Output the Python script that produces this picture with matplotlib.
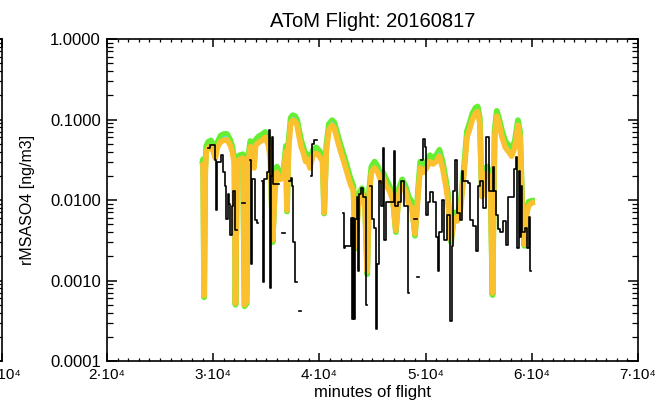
import numpy as np
import matplotlib
matplotlib.use('Agg')
import matplotlib.pyplot as plt
from matplotlib.ticker import FixedLocator, FixedFormatter, LogLocator, MultipleLocator, NullFormatter

plt.rcParams['font.family'] = ['Liberation Sans', 'DejaVu Sans']

nan = np.nan

# data (minutes of flight, ng/m3)
orange_x = [28950, 29050, 29150, 29250, 29350, 29550, 29800, 30000, 30200, 30400,
            30700, 31000, 31300, 31600, 31800, 32000, 32100, 32250, 32500, 32800,
            32950, 33150, 33300, 33500, 33700, 33850, 34000, 34300, 34600, 34900,
            35200, 35400, 35600, 35800, 36000, 36300, 36600, 36850, 36950, 37100,
            37300, 37500, 37700, 37900, 38100, 38300, 38500, 38700, 38900, 39100,
            39400, 39700, 40000, 40300, 40450, 40650, 40900, 41200, 41400, 41700,
            42000, 42300, 42600, 42900, 43200, 43400, 43700, 44000, 44300, 44500,
            44700, 44900, 45200, 45500, 45800, 46000, 46300, 46600, 46900, 47200,
            47500, 47800, 48100, 48400, 48700, 49000, 49300, 49500, 49800, 50100,
            50400, 50700, 51000, 51300, 51600, 51900, 52100, 52400, 52700, 53000,
            53300, 53600, 53900, 54200, 54400, 54700, 54900, 55100, 55300, 55500,
            55800, 56100, 56300, 56500, 56700, 56900, 57200, 57500, 57800, 58100,
            58400, 58700, 58900, 59100, 59300, 59500, 59700, 60000, 60300]
orange_y = [0.026, 0.028, 0.00065, 0.022, 0.040, 0.045, 0.046, 0.040, 0.033, 0.045,
            0.053, 0.055, 0.056, 0.048, 0.040, 0.028, 0.00052, 0.030, 0.032, 0.033,
            0.00050, 0.00055, 0.030, 0.046, 0.040, 0.025, 0.048, 0.052, 0.055, 0.060,
            0.048, 0.030, 0.0032, 0.012, 0.022, 0.018, 0.019, 0.040, 0.0075, 0.045,
            0.090, 0.098, 0.095, 0.085, 0.060, 0.045, 0.038, 0.030, 0.032, 0.025,
            0.036, 0.038, 0.035, 0.030, 0.007, 0.040, 0.075, 0.085, 0.078, 0.055,
            0.040, 0.030, 0.022, 0.016, 0.013, 0.0026, 0.010, 0.012, 0.008, 0.0013,
            0.012, 0.022, 0.025, 0.022, 0.017, 0.019, 0.015, 0.013, 0.010, 0.0042,
            0.012, 0.015, 0.013, 0.009, 0.008, 0.0038, 0.012, 0.025, 0.022, 0.025,
            0.030, 0.028, 0.030, 0.035, 0.025, 0.015, 0.010, 0.0032, 0.006, 0.0055,
            0.008, 0.020, 0.060, 0.080, 0.100, 0.120, 0.125, 0.090, 0.011, 0.020,
            0.022, 0.018, 0.0007, 0.060, 0.110, 0.090, 0.060, 0.045, 0.040, 0.035,
            0.045, 0.085, 0.060, 0.008, 0.0028, 0.0065, 0.0085, 0.0092, 0.0094]
green_y = [0.028, 0.032, 0.00062, 0.025, 0.047, 0.053, 0.055, 0.047, 0.038, 0.052,
           0.063, 0.066, 0.066, 0.056, 0.046, 0.032, 0.00050, 0.034, 0.036, 0.037,
           0.00048, 0.00052, 0.035, 0.054, 0.047, 0.029, 0.056, 0.062, 0.065, 0.070,
           0.057, 0.035, 0.0030, 0.014, 0.026, 0.021, 0.022, 0.047, 0.0072, 0.053,
           0.105, 0.113, 0.110, 0.100, 0.072, 0.054, 0.045, 0.035, 0.037, 0.029,
           0.042, 0.045, 0.041, 0.035, 0.0068, 0.047, 0.088, 0.098, 0.092, 0.066,
           0.048, 0.036, 0.026, 0.019, 0.015, 0.0025, 0.012, 0.014, 0.0095, 0.0012,
           0.014, 0.026, 0.030, 0.026, 0.020, 0.022, 0.018, 0.015, 0.012, 0.0040,
           0.014, 0.018, 0.015, 0.011, 0.0095, 0.0036, 0.014, 0.030, 0.026, 0.030,
           0.036, 0.033, 0.036, 0.042, 0.030, 0.018, 0.012, 0.0030, 0.007, 0.0065,
           0.0095, 0.024, 0.072, 0.095, 0.118, 0.140, 0.145, 0.105, 0.012, 0.024,
           0.026, 0.021, 0.00066, 0.072, 0.128, 0.105, 0.072, 0.054, 0.048, 0.042,
           0.054, 0.098, 0.070, 0.0085, 0.0027, 0.0072, 0.0095, 0.0098, 0.0098]

cyan_x = [31000, 31300, nan, 37500, 37700, 37900, nan, 41200, 41400, 41700, nan,
          51100, 51300, nan, 54600, 54800, nan, 57500, 57800]
cyan_y = [0.060, 0.061, nan, 0.105, 0.102, 0.092, nan, 0.092, 0.085, 0.060, nan,
          0.032, 0.038, nan, 0.12, 0.13, nan, 0.050, 0.044]

black_x = [29550, 29700, 30150, 30300, 30400, 30750, 30950, 31100, 31200, 31350,
           31500, 31600, 31750, 31850, 32050, 32200, 32750, 32900, 33000, 33450,
           33550, 33650, 33900, 34150, 34250, 34600, 34700, 34800, 35050, 35250,
           35350, 35450, 35550, 35600, 36000, 36150, 36500, 36650, 36750, 37150,
           37350, 37450, 37550, 37700, 37850, 38050, 38200, 38300, 39250, 39350,
           39500, 39750, 42200, 42300, 42400, 42950, 43050, 43150, 43250, 43350,
           43550, 43650, 43750, 43900, 44150, 44350, 44500, 44800, 44950, 45100,
           45300, 45400, 45650, 45800, 45950, 46100, 46300, 47000, 47150, 47400,
           47700, 48000, 48300, 48400, 48950, 49100, 49150, 49200, 49350, 49400,
           49600, 49750, 49900, 50050, 50200, 50450, 50700, 51000, 51150, 51300,
           51550, 51700, 52050, 52300, 52450, 52600, 52800, 52950, 53200, 53400,
           53550, 53950, 54150, 54450, 54750, 54900, 55150, 55450, 55700, 55900,
           56000, 56300, 56450, 56600, 56800, 57000, 57300, 57600, 57800, 58300,
           58500, 58650, 58750, 58850, 58950, 59100, 59400, 59550, 59700, 59800,
           59900]
black_y = [0.044, 0.048, 0.031, 0.0075, 0.030, 0.036, 0.022, 0.015, 0.0058, 0.012,
           0.009, 0.0037, 0.0085, 0.013, 0.0042, nan, 0.0091, 0.0091, nan, 0.031,
           0.0016, 0.018, 0.0056, 0.0052, nan, 0.017, 0.00095, 0.018, 0.022, 0.075,
           0.0008, 0.020, 0.060, 0.016, 0.016, nan, 0.0039, 0.0039, nan, 0.017,
           0.019, 0.015, 0.003, 0.00095, nan, 0.00042, 0.00042, nan, 0.020, 0.050,
           0.055, nan, 0.0068, 0.0025, 0.0027, 0.006, 0.00033, 0.006, 0.00033, 0.0058,
           0.011, 0.0013, 0.012, 0.014, 0.011, 0.0005, nan, 0.015, 0.0058, 0.0045,
           0.00025, 0.0016, 0.017, 0.0085, 0.044, 0.0032, 0.0095, 0.041, 0.0085, 0.0095,
           0.017, 0.0085, 0.0007, nan, 0.0058, 0.0058, nan, 0.0011, 0.0011, nan,
           0.031, 0.058, 0.045, 0.0065, 0.0095, 0.0125, 0.0095, 0.0035, 0.0013, 0.004,
           0.010, 0.0032, 0.0065, 0.00031, 0.0027, 0.013, 0.031, 0.0068, 0.0056, 0.023,
           0.017, 0.0165, 0.0056, 0.0048, 0.0023, 0.015, 0.017, 0.008, 0.060, 0.060,
           0.013, 0.026, 0.013, 0.0065, 0.0044, 0.0040, 0.0055, 0.0028, 0.011, 0.024,
           0.034, 0.0025, 0.023, 0.0035, 0.015, 0.004, 0.0045, 0.0025, 0.0062, 0.0013,
           nan]

xticks = [20000, 30000, 40000, 50000, 60000, 70000]
xtick_labels = ['2·10⁴', '3·10⁴', '4·10⁴', '5·10⁴', '6·10⁴', '7·10⁴']
yticks = [0.0001, 0.001, 0.01, 0.1, 1.0]
ytick_labels = ['0.0001', '0.0010', '0.0100', '0.1000', '1.0000']

fig = plt.figure(figsize=(6.58, 4.03), dpi=100)

def style_axes(a):
    a.set_yscale('log')
    a.set_xlim(20000, 70000)
    a.set_ylim(0.0001, 1.0)
    a.xaxis.set_major_locator(FixedLocator(xticks))
    a.xaxis.set_major_formatter(FixedFormatter(xtick_labels))
    a.xaxis.set_minor_locator(MultipleLocator(1000))
    a.yaxis.set_major_locator(FixedLocator(yticks))
    a.yaxis.set_major_formatter(FixedFormatter(ytick_labels))
    a.yaxis.set_minor_locator(LogLocator(base=10, subs=np.arange(2, 10)))
    a.yaxis.set_minor_formatter(NullFormatter())
    a.tick_params(which='both', direction='in', top=True, right=True, color='black')
    a.tick_params(axis='x', which='major', length=6, width=1.1, labelsize=11, pad=5)
    a.tick_params(axis='x', which='minor', length=2.5, width=0.9)
    a.tick_params(axis='y', which='major', length=7.5, width=1.1, labelsize=12, pad=4.5)
    a.tick_params(axis='y', which='minor', length=4, width=0.9)
    for s in a.spines.values():
        s.set_linewidth(1.2)

# neighbouring panel, only its right edge is inside the picture
ax0 = fig.add_axes([-0.8, 0.1042, 0.8035, 0.799])
style_axes(ax0)
ax0.set_xticks([70000])
ax0.set_xticklabels([xtick_labels[-1]])
ax0.tick_params(labelleft=False)

ax = fig.add_axes([0.1626, 0.1042, 0.807, 0.799])
style_axes(ax)

ax.plot(orange_x, green_y, color='#66ee33', lw=4.2, solid_capstyle='butt', zorder=2)
ax.plot(cyan_x, cyan_y, color='#66dddd', lw=1.6, zorder=3)
ax.plot(orange_x, orange_y, color='#fbc02d', lw=4.0, solid_capstyle='butt', zorder=4)
ax.plot(black_x, black_y, color='black', lw=1.2, drawstyle='steps-post', zorder=5)

ax.set_title('AToM Flight: 20160817', fontsize=14.5, pad=9)
ax.set_xlabel('minutes of flight', fontsize=12, labelpad=2)
ax.set_ylabel('rMSASO4 [ng/m3]', fontsize=11.5, labelpad=11)

fig.savefig('out.png', dpi=100)
